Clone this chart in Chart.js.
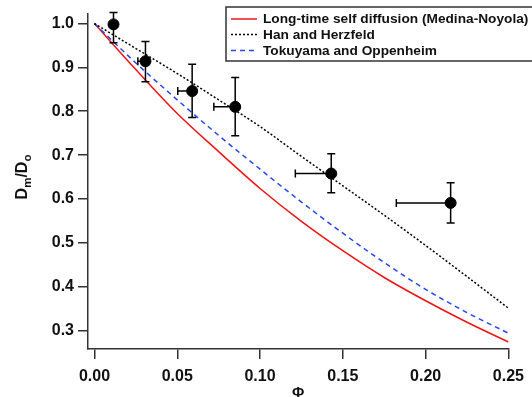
<!DOCTYPE html>
<html>
<head>
<meta charset="utf-8">
<script src="https://cdn.jsdelivr.net/npm/chart.js@4"></script>
<style>
  html, body { margin: 0; padding: 0; background: #fff; }
</style>
</head>
<body>
<canvas id="chart" width="532" height="397"></canvas>
<script>
// volume fraction grid for the theory curves
const phi = [0, 0.025, 0.05, 0.075, 0.1, 0.125, 0.15, 0.175, 0.2, 0.225, 0.25];
const medinaNoyola = [1.0, 0.895, 0.795, 0.708, 0.624, 0.549, 0.482, 0.421, 0.368, 0.319, 0.274];
const hanHerzfeld = [1.0, 0.943, 0.886, 0.826, 0.765, 0.697, 0.630, 0.563, 0.494, 0.423, 0.351];
const tokuyamaOppenheim = [1.0, 0.910, 0.826, 0.745, 0.668, 0.593, 0.522, 0.455, 0.394, 0.341, 0.294];

// measured points (x error only drawn to the left)
const expPhi = [0.0115, 0.0308, 0.059, 0.085, 0.143, 0.2151];
const expPhiLow = [0.0115, 0.0262, 0.0503, 0.0721, 0.1213, 0.1823];
const expD = [0.998, 0.914, 0.846, 0.810, 0.658, 0.591];
const expDLow = [0.956, 0.867, 0.786, 0.744, 0.614, 0.545];
const expDHigh = [1.025, 0.959, 0.907, 0.877, 0.703, 0.637];

const xTicks = [0, 0.05, 0.1, 0.15, 0.2, 0.25];
const yTicks = [0.3, 0.4, 0.5, 0.6, 0.7, 0.8, 0.9, 1.0];
const seriesNames = ['Long-time self diffusion (Medina-Noyola)', 'Han and Herzfeld', 'Tokuyama and Oppenheim'];

const FONT = '"Liberation Sans", Arial, Helvetica, sans-serif';
const AXIS = '#333';
const RED = 'rgb(240,20,20)';
const BLUE = 'rgb(40,70,240)';

function pts(ys) {
  return phi.map((x, i) => ({ x: x, y: ys[i] }));
}

const errorBars = {
  id: 'errorBars',
  afterDatasetsDraw(chart) {
    const ctx = chart.ctx;
    const xs = chart.scales.x, ys = chart.scales.y;
    ctx.save();
    ctx.strokeStyle = '#000';
    ctx.lineWidth = 1.5;
    const cap = 4;
    for (let i = 0; i < expPhi.length; i++) {
      const px = xs.getPixelForValue(expPhi[i]);
      const py = ys.getPixelForValue(expD[i]);
      const top = ys.getPixelForValue(expDHigh[i]);
      const bot = ys.getPixelForValue(expDLow[i]);
      ctx.beginPath();
      ctx.moveTo(px, top); ctx.lineTo(px, bot);
      ctx.moveTo(px - cap, top); ctx.lineTo(px + cap, top);
      ctx.moveTo(px - cap, bot); ctx.lineTo(px + cap, bot);
      if (expPhiLow[i] < expPhi[i]) {
        const lx = xs.getPixelForValue(expPhiLow[i]);
        ctx.moveTo(lx, py); ctx.lineTo(px, py);
        ctx.moveTo(lx, py - cap); ctx.lineTo(lx, py + cap);
      }
      ctx.stroke();
    }
    ctx.restore();
  }
};

const legendBox = {
  id: 'legendBox',
  afterDraw(chart) {
    const ctx = chart.ctx;
    ctx.save();
    ctx.fillStyle = '#fff';
    ctx.fillRect(226, 7, 320, 54);
    ctx.strokeStyle = AXIS;
    ctx.lineWidth = 1.5;
    ctx.strokeRect(226, 7, 320, 54);
    const rows = [19, 34.5, 50.5];
    const styles = [
      { color: RED, dash: [] },
      { color: '#000', dash: [2, 2] },
      { color: BLUE, dash: [5, 4] }
    ];
    ctx.font = 'bold 13.7px ' + FONT;
    ctx.textBaseline = 'middle';
    for (let i = 0; i < seriesNames.length; i++) {
      ctx.beginPath();
      ctx.setLineDash(styles[i].dash);
      ctx.strokeStyle = styles[i].color;
      ctx.lineWidth = 1.5;
      ctx.moveTo(231, rows[i]); ctx.lineTo(257, rows[i]);
      ctx.stroke();
      ctx.setLineDash([]);
      ctx.fillStyle = '#111';
      ctx.fillText(seriesNames[i], 263, rows[i] + 0.5);
    }
    ctx.restore();
  }
};

const yTitle = {
  id: 'yTitle',
  afterDraw(chart) {
    const ctx = chart.ctx;
    ctx.save();
    ctx.fillStyle = '#111';
    ctx.textBaseline = 'alphabetic';
    const big = 'bold 16px ' + FONT, small = 'bold 11.5px ' + FONT;
    const parts = [['D', big, 0], ['m', small, 4], ['/D', big, 0], ['o', small, 4]];
    let w = 0;
    parts.forEach(p => { ctx.font = p[1]; w += ctx.measureText(p[0]).width; });
    ctx.translate(27, 177);
    ctx.rotate(-Math.PI / 2);
    let x = -w / 2;
    parts.forEach(p => {
      ctx.font = p[1];
      ctx.fillText(p[0], x, p[2]);
      x += ctx.measureText(p[0]).width;
    });
    ctx.restore();
  }
};

new Chart(document.getElementById('chart'), {
  type: 'scatter',
  data: {
    datasets: [
      {
        label: 'measured',
        data: expPhi.map((x, i) => ({ x: x, y: expD[i] })),
        pointRadius: 5.5,
        pointBackgroundColor: '#000',
        pointBorderColor: '#000',
        showLine: false,
        clip: false
      },
      {
        label: seriesNames[1],
        data: pts(hanHerzfeld),
        showLine: true,
        borderColor: '#000',
        borderWidth: 1.5,
        borderDash: [2, 2],
        pointRadius: 0,
        cubicInterpolationMode: 'monotone'
      },
      {
        label: seriesNames[2],
        data: pts(tokuyamaOppenheim),
        showLine: true,
        borderColor: BLUE,
        borderWidth: 1.5,
        borderDash: [5, 4],
        pointRadius: 0,
        cubicInterpolationMode: 'monotone'
      },
      {
        label: seriesNames[0],
        data: pts(medinaNoyola),
        showLine: true,
        borderColor: RED,
        borderWidth: 1.5,
        pointRadius: 0,
        cubicInterpolationMode: 'monotone'
      }
    ]
  },
  options: {
    responsive: false,
    animation: false,
    devicePixelRatio: 1,
    layout: { padding: { left: 0, top: 10, right: 23, bottom: 0 } },
    plugins: { legend: { display: false }, tooltip: { enabled: false } },
    scales: {
      x: {
        type: 'linear',
        min: -0.0039,
        max: 0.25,
        afterBuildTicks: s => { s.ticks = xTicks.map(v => ({ value: v })); },
        afterFit: s => { s.height = 48; },
        ticks: {
          color: '#111',
          font: { family: FONT, size: 16, weight: 'bold' },
          padding: 8,
          maxRotation: 0,
          autoSkip: false,
          callback: v => v.toFixed(2)
        },
        grid: { drawOnChartArea: false, tickLength: 10, color: AXIS, lineWidth: 1.5 },
        border: { color: AXIS, width: 1.5 },
        title: {
          display: true,
          text: 'Φ',
          color: '#111',
          font: { family: FONT, size: 15, weight: 'bold', lineHeight: 0.6 },
          padding: 0
        }
      },
      y: {
        type: 'linear',
        min: 0.258,
        max: 1.0226,
        afterBuildTicks: s => { s.ticks = yTicks.map(v => ({ value: v })); },
        afterFit: s => { s.width = 88; },
        ticks: {
          color: '#111',
          font: { family: FONT, size: 16, weight: 'bold' },
          padding: 4,
          autoSkip: false,
          callback: v => v.toFixed(1)
        },
        grid: { drawOnChartArea: false, tickLength: 10, color: AXIS, lineWidth: 1.5 },
        border: { color: AXIS, width: 1.5 }
      }
    }
  },
  plugins: [errorBars, legendBox, yTitle]
});
</script>
</body>
</html>
